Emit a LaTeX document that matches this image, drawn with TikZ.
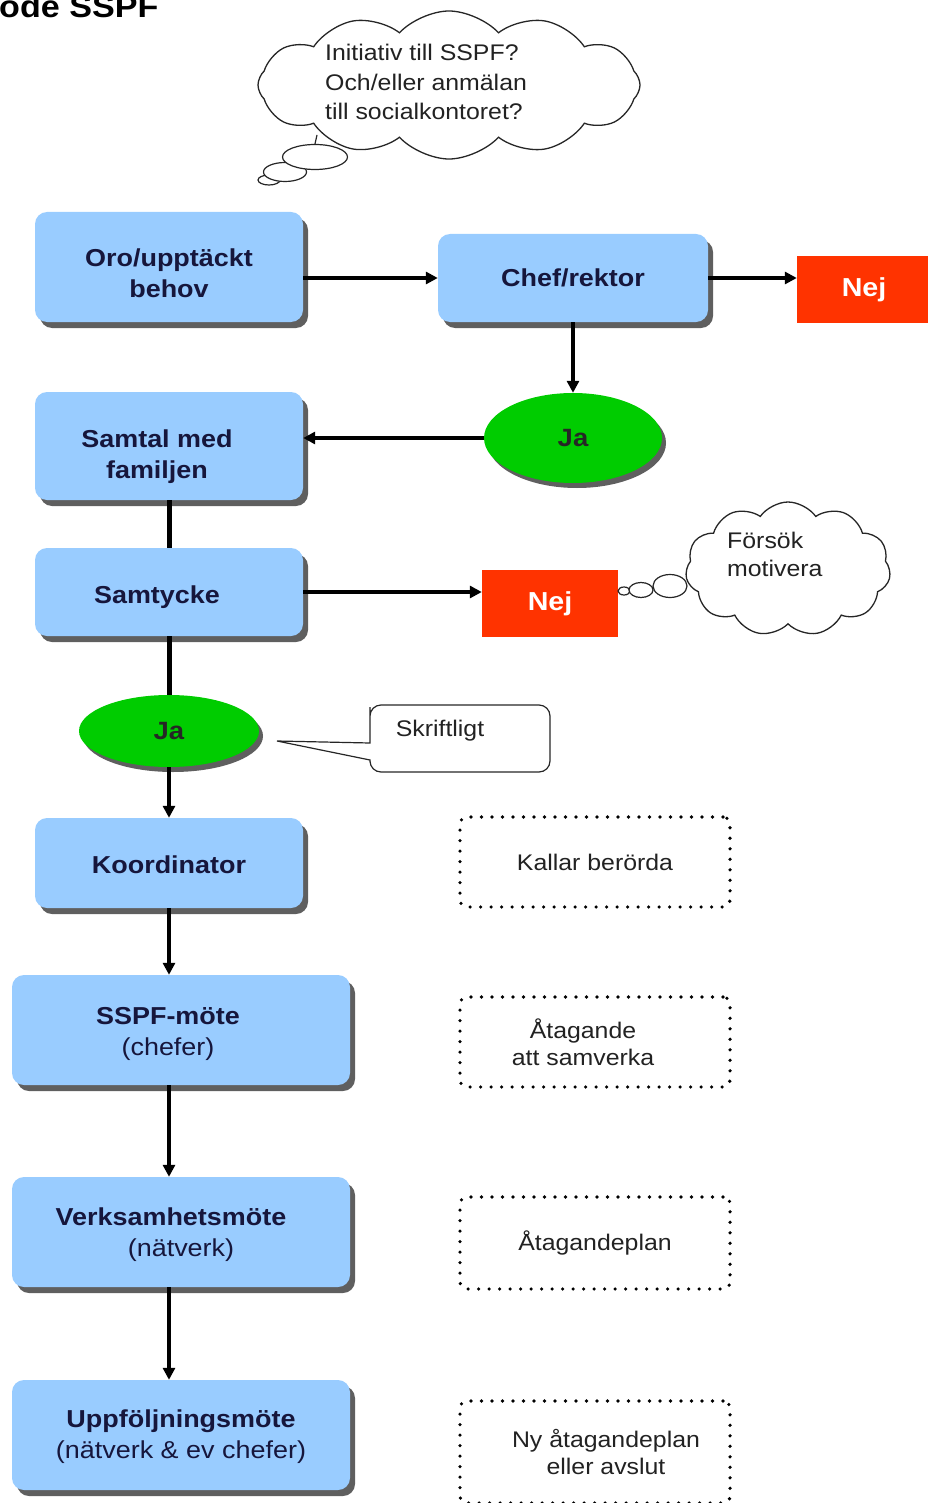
\documentclass[tikz,border=0pt]{standalone}
\usepackage{fontspec}
\setmainfont{Liberation Sans}[FakeStretch=1.1]
\usetikzlibrary{shapes.geometric,shapes.symbols,shadows,arrows.meta}
\definecolor{boxblue}{RGB}{153,204,255}
\definecolor{nejred}{RGB}{255,51,0}
\definecolor{jagreen}{RGB}{0,204,0}
\definecolor{navy}{RGB}{22,22,60}
\definecolor{txtgray}{RGB}{34,34,34}
\definecolor{shadowgray}{RGB}{95,95,95}
\newcommand{\lowr}[1]{\rule{0pt}{#1}}
\begin{document}
\begin{tikzpicture}[x=1pt,y=-1pt,
  bshadow/.style={drop shadow={shadow xshift=5pt,shadow yshift=-6pt,fill=shadowgray,opacity=1}},
  flowbox/.style={bshadow,fill=boxblue,rounded corners=12pt,inner sep=0pt,align=center,
    text=navy,font=\fontsize{24.5}{31}\selectfont\bfseries},
  nejbox/.style={fill=nejred,inner sep=0pt,text=white,font=\fontsize{26}{31}\selectfont\bfseries},
  jaell/.style={ellipse,fill=jagreen,inner sep=0pt,text=black!85,
    drop shadow={shadow xshift=4pt,shadow yshift=-5pt,fill=shadowgray,opacity=1},
    font=\fontsize{25}{31}\selectfont\bfseries},
  dotbox/.style={draw=black,line width=3.6pt,dash pattern=on 0pt off 10.5pt,line cap=round,
    rounded corners=7pt,inner sep=0pt,align=center,text=txtgray,font=\fontsize{22.6}{27}\selectfont},
  normtxt/.style={inner sep=0pt,text=txtgray,font=\fontsize{22.6}{29.5}\selectfont},
  thought/.style={cloud,draw=black!85,fill=white,line width=1.3pt,cloud ignores aspect,inner sep=0pt},
  bubble/.style={ellipse,draw=black!85,fill=white,line width=1.2pt,inner sep=0pt},
  flow/.style={line width=4pt,-{Triangle[length=12pt,width=12pt]}},
  plain/.style={line width=5pt}
]
\useasboundingbox (0,0) rectangle (927,1503);

% title (cropped as in the reference)
\node[anchor=base west,inner sep=0pt,font=\fontsize{31}{31}\selectfont\bfseries] (title) at (-1,18) {ode SSPF};

% top thought cloud
\node[thought,cloud puffs=12,cloud puff arc=95,minimum width=382pt,minimum height=148pt] (cloud1) at (449,85) {};
\node[bubble,minimum width=22pt,minimum height=10pt] (b13) at (269,180) {};
\node[bubble,minimum width=43pt,minimum height=19pt] (b12) at (285,172) {};
\node[bubble,minimum width=65pt,minimum height=25pt] (b11) at (315,157) {};
\draw[black!85,line width=1.2pt] (b11.north) -- ++(2,-9);
\node[normtxt,anchor=north west,align=left] (cloudtxt1) at (325,44) {Initiativ till SSPF?\\Och/eller anmälan\\till socialkontoret?};

% main boxes
\node[flowbox,minimum width=268pt,minimum height=110pt] (oro) at (169,267) {\lowr{30pt}Oro/upptäckt\\behov};
\node[flowbox,minimum width=270pt,minimum height=88pt] (chef) at (573,278) {Chef/rektor};
\node[nejbox,minimum width=134pt,minimum height=67pt] (nej1) at (864,289.5) {Nej};
\node[jaell,minimum width=178pt,minimum height=90pt] (ja1) at (573,438) {Ja};
\node[flowbox,minimum width=268pt,minimum height=108pt] (samtal) at (169,446)
  {\lowr{40pt}Samtal med\hspace*{24pt}\\familjen\hspace*{24pt}};
\node[flowbox,minimum width=268pt,minimum height=88pt] (samtycke) at (169,592)
  {\lowr{28pt}Samtycke\hspace*{24pt}};
\node[nejbox,minimum width=136pt,minimum height=67pt] (nej2) at (550,603.5) {Nej};
\node[jaell,minimum width=180pt,minimum height=72pt] (ja2) at (169,731) {Ja};
\node[flowbox,minimum width=268pt,minimum height=90pt] (koord) at (169,863) {\lowr{22pt}Koordinator};
\node[flowbox,minimum width=338pt,minimum height=110pt] (sspf) at (181,1030)
  {\lowr{26pt}SSPF-möte\hspace*{26pt}\\{\mdseries (chefer)}\hspace*{26pt}};
\node[flowbox,minimum width=338pt,minimum height=110pt] (verk) at (181,1232)
  {\lowr{24pt}Verksamhetsmöte\hspace*{20pt}\\{\mdseries (nätverk)}};
\node[flowbox,minimum width=338pt,minimum height=110pt] (uppf) at (181,1435)
  {\lowr{22pt}Uppföljningsmöte\\{\mdseries (nätverk \& ev chefer)}};

% Försök motivera cloud with its bubbles
\node[bubble,minimum width=12pt,minimum height=8pt] (b23) at (624,591) {};
\node[bubble,minimum width=24pt,minimum height=15pt] (b22) at (641,590) {};
\node[bubble,minimum width=34pt,minimum height=23pt] (b21) at (670,586) {};
\node[thought,cloud puffs=11,cloud puff arc=110,minimum width=205pt,minimum height=134pt] (cloud2) at (788,569) {};
\node[normtxt,anchor=north west,align=left,font=\fontsize{22.6}{28}\selectfont] (cloudtxt2) at (727,532) {Försök\\motivera};

% Skriftligt callout
\node[normtxt] (skr) at (440,731) {Skriftligt};
\coordinate (skrtip) at (277,741);
\draw[black!85,line width=1.2pt] (skrtip) -- (370,760) -- (370,762) [rounded corners=11pt]
  -- (370,772) -- (550,772) -- (550,705) -- (370,705) -- (370,718) [sharp corners]
  -- (370,743) -- cycle;

% dotted boxes
\node[dotbox,minimum width=270pt,minimum height=90pt] (kallar) at (595,862) {Kallar berörda};
\node[dotbox,minimum width=270pt,minimum height=90pt] (atag) at (595,1042) {Åtagande\hspace*{24pt}\\att samverka\hspace*{24pt}};
\node[dotbox,minimum width=270pt,minimum height=92pt] (atagplan) at (595,1243) {Åtagandeplan};
\node[dotbox,minimum width=270pt,minimum height=102pt] (nyplan) at (595,1452) {\hspace*{22pt}Ny åtagandeplan\\\hspace*{22pt}eller avslut};

% connectors
\draw[flow] (oro.east |- chef.west) -- (chef.west);
\draw[flow] (chef.east) -- (chef.east -| nej1.west);
\draw[flow] (chef.south) -- (ja1.north);
\draw[flow] (ja1.west) -- (ja1.west -| samtal.east);
\draw[plain] (samtal.south) -- (samtycke.north);
\draw[flow] (samtycke.east) -- (samtycke.east -| nej2.west);
\draw[plain] (samtycke.south) -- (samtycke.south |- ja2.north);
\draw[flow] (ja2.south) -- (ja2.south |- koord.north);
\draw[flow] (koord.south) -- (koord.south |- sspf.north);
\draw[flow] (sspf.south -| koord.south) -- (verk.north -| koord.south);
\draw[flow] (verk.south -| koord.south) -- (uppf.north -| koord.south);
\end{tikzpicture}
\end{document}
